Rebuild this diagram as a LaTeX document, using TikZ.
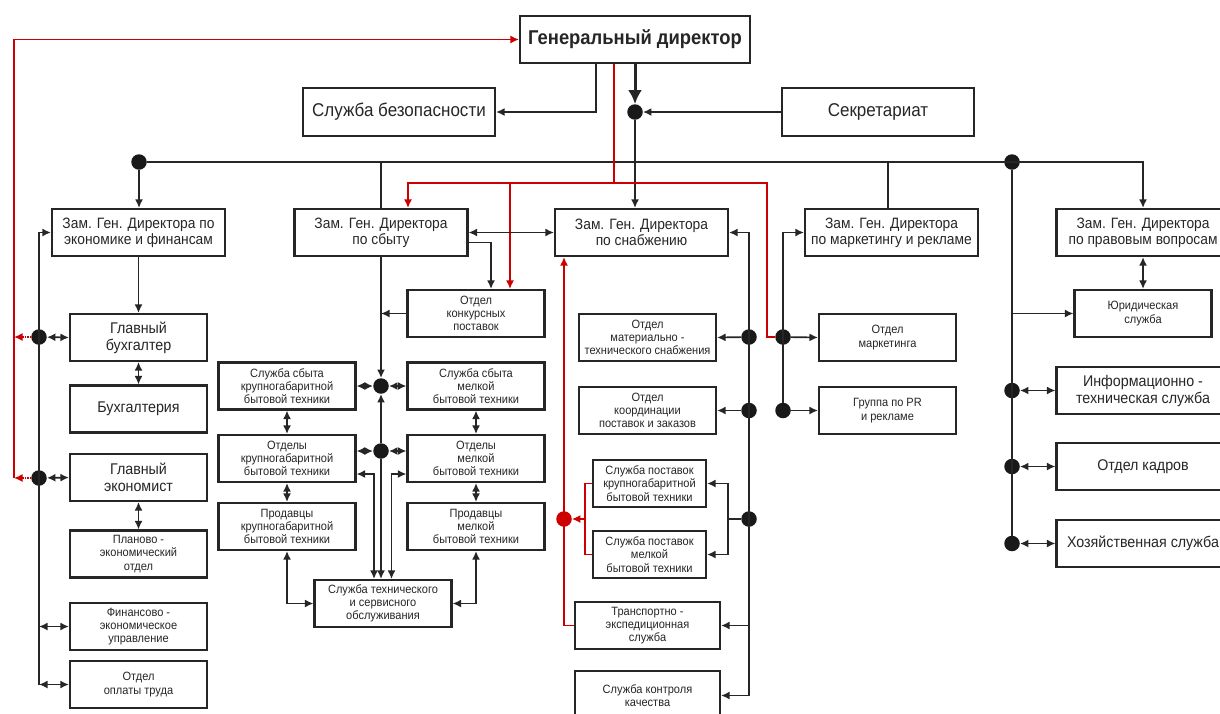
\documentclass[tikz,border=0pt]{standalone}
\usepackage{fontspec}
\setmainfont{Liberation Sans}[FakeStretch=0.92]
\usetikzlibrary{arrows.meta}
\newcommand{\knotsize}{15.5}
\tikzset{
	box/.style={draw=black!85, line width=2.1pt, fill=white, align=center, inner sep=1pt, text=black!85},
	huge/.style={font=\fontsize{20}{22}\selectfont\bfseries},
	large/.style={font=\fontsize{18.5}{20}\selectfont},
	big/.style={font=\fontsize{15.5}{17}\selectfont},
	mid/.style={font=\fontsize{15}{16}\selectfont},
	small/.style={font=\fontsize{12}{13.3}\selectfont},
	wide/.style={minimum width=173, minimum height=47},
	unit/.style={minimum width=137, minimum height=47},
	knot/.style={circle, fill=black!90, inner sep=0, minimum size=\knotsize},
	link/.style={draw=black!85, line width=1.7pt},
	redlink/.style={draw=red!80!black, line width=1.5pt},
	reddot/.style={redlink, densely dotted},
	>={Latex[length=8.5pt,width=8pt]}
}

\begin{document}
\begin{tikzpicture}[x=1pt, y=-1pt]
	
	\useasboundingbox[fill=white] (0,0) rectangle (1220,713);
	
	\node[box, huge, minimum width=230, minimum height=47] (GD) at (635,39.5) {Генеральный директор};
	\node[box, large, minimum width=192, minimum height=48] (SB) at (399,112) {Служба безопасности};
	\node[box, large, minimum width=192, minimum height=48] (Sec) at (878,112) {Секретариат};
	
	\node[box, mid, wide] (Econ) at (138.5,232.5) {Зам. Ген. Директора по\\экономике и финансам};
	\node[box, mid, wide] (Sbyt) at (381,232.5) {Зам. Ген. Директора\\по сбыту};
	\node[box, mid, wide] (Snab) at (641.5,232.5) {Зам. Ген. Директора\\по снабжению};
	\node[box, mid, wide] (Mark) at (891.5,232.5) {Зам. Ген. Директора\\по маркетингу и рекламе};
	\node[box, mid, wide] (Pravo) at (1143,232.5) {Зам. Ген. Директора\\по правовым вопросам};
	
	\node[box, big, unit] (GB) at (138.5,337.5) {Главный\\бухгалтер};
	\node[box, big, unit] (Buh) at (138.5,409) {Бухгалтерия};
	\node[box, big, unit] (GE) at (138.5,477.5) {Главный\\экономист};
	\node[box, small, unit] (PEO) at (138.5,554) {Планово -\\экономический\\отдел};
	\node[box, small, unit] (FEU) at (138.5,626.5) {Финансово -\\экономическое\\управление};
	\node[box, small, unit] (OOT) at (138.5,684.5) {Отдел\\оплаты труда};
	
	\node[box, small, unit] (OKP) at (476,313.5) {Отдел\\конкурсных\\поставок};
	\node[box, small, unit] (SSK) at (287,386) {Служба сбыта\\крупногабаритной\\бытовой техники};
	\node[box, small, unit] (SSM) at (476,386) {Служба сбыта\\мелкой\\бытовой техники};
	\node[box, small, unit] (OK) at (287,458.5) {Отделы\\крупногабаритной\\бытовой техники};
	\node[box, small, unit] (OM) at (476,458.5) {Отделы\\мелкой\\бытовой техники};
	\node[box, small, unit] (PK) at (287,526.5) {Продавцы\\крупногабаритной\\бытовой техники};
	\node[box, small, unit] (PM) at (476,526.5) {Продавцы\\мелкой\\бытовой техники};
	\node[box, small, unit] (ST) at (383,603.5) {Служба технического\\и сервисного\\обслуживания};
	
	\node[box, small, unit] (OMTS) at (647.5,337.5) {Отдел\\материально -\\технического снабжения};
	\node[box, small, unit] (OKPZ) at (647.5,410.5) {Отдел\\координации\\поставок и заказов};
	\node[box, small, minimum width=113, minimum height=47] (SPK) at (649.5,483.5) {Служба поставок\\крупногабаритной\\бытовой техники};
	\node[box, small, minimum width=113, minimum height=47] (SPM) at (649.5,554.5) {Служба поставок\\мелкой\\бытовой техники};
	\node[box, small, minimum width=145, minimum height=47] (TES) at (647.5,625.5) {Транспортно -\\экспедиционная\\служба};
	\node[box, small, minimum width=145, minimum height=49] (SKK) at (647.5,695.5) {Служба контроля\\качества};
	
	\node[box, small, unit] (OMk) at (887.5,337.5) {Отдел\\маркетинга};
	\node[box, small, unit] (PR) at (887.5,410.5) {Группа по PR\\и рекламе};
	
	\node[box, small, unit] (Yur) at (1143,313.5) {Юридическая\\служба};
	\node[box, big, wide] (IT) at (1143,390.5) {Информационно -\\техническая служба};
	\node[box, big, wide] (Kadr) at (1143,466.5) {Отдел кадров};
	\node[box, big, wide] (Hoz) at (1143,543.5) {Хозяйственная служба};
	
	\foreach \n/\x/\y in {d0/635/112, dL/139/162, dR/1012/162, dGB/39/337, dGE/39/478, dS1/381/386, dS2/381/451, dM1/749/337, dM2/749/410.5, dM3/749/519, dK1/783/337, dK2/783/410.5, dR1/1012/390.5, dR2/1012/466.5, dR3/1012/543.5}
	{
		\node[knot] (\n) at (\x,\y) {};
	}
	\node[knot, fill=red!80!black] (dRed) at (564,519) {};
	
	\coordinate (rL) at (14,478);
	\coordinate (rB) at (14,337);
	\coordinate (rT) at (614,183);
	\coordinate (rK) at (510,183);
	\coordinate (rS) at (585,519);
	\coordinate (sp) at (728,519);
	
	\draw[link, line width=3pt, -{Latex[length=14pt,width=14pt]}] (GD.south) -- (d0);
	\draw[link,->] ([xshift=-39pt]GD.south) |- (SB.east);
	\draw[link,->] (Sec.west) -- (d0);
	\draw[link,->] (d0) -- (d0 |- Snab.north);
	\draw[link,->] (dL) -| (Pravo.north);
	\draw[link,->] (dL) -- (dL |- Econ.north);
	\draw[link] (Sbyt.north) -- (Sbyt.north |- dL);
	\draw[link] ([xshift=-3.5pt]Mark.north) -- ([xshift=-3.5pt]Mark.north |- dL);
	\draw[link] (dR) -- (dR3);
	
	\draw[redlink,->] (rL) |- (GD.west);
	\draw[reddot,->] (dGB) -- (rB);
	\draw[reddot,->] (dGE) -- (rL);
	\draw[redlink] ([xshift=-21pt]GD.south) -- (rT) -| ([xshift=-16pt]dK1.center) -- (dK1);
	\draw[redlink,->] (rT) -| ([xshift=27pt]Sbyt.north);
	\draw[redlink,->] (rK) -- (rK |- OKP.north);
	
	\draw[link,->] (Econ) -- (GB);
	\foreach \a/\b in {GB/Buh, GE/PEO, SSK/OK, OK/PK, SSM/OM, OM/PM, Pravo/Yur}
	{
		\draw[link,<->] (\a) -- (\b);
	}
	\draw[link,<->] (dGB) -- (GB.west);
	\draw[link,<->] (dGE) -- (GE.west);
	\draw[link,->] (dGB |- OOT.west) |- (Econ.west);
	\draw[link,<->] (dGB |- FEU.west) -- (FEU.west);
	\draw[link,<->] (dGB |- OOT.west) -- (OOT.west);
	
	\draw[link,<->] (Sbyt.east) -- (Snab.west);
	\draw[link,->] ([yshift=-10pt]Sbyt.east) -| ([xshift=15pt]OKP.north);
	\draw[link,->] (Sbyt.south) -- (dS1);
	\draw[link,->] (OKP.west) -- (OKP.west -| dS1);
	\draw[link,<->] (dS1) -- (SSK.east);
	\draw[link,<->] (dS1) -- (SSM.west);
	\draw[link,<->] (dS2) -- (dS2 -| OK.east);
	\draw[link,<->] (dS2) -- (dS2 -| OM.west);
	\draw[link,->] (dS2) -- (dS1);
	\draw[link,->] (dS2) -- (dS2 |- ST.north);
	\draw[link,<->] ([yshift=-15.5pt]OK.east) -| ([xshift=-9pt]ST.north);
	\draw[link,<->] ([yshift=-15.5pt]OM.west) -| ([xshift=8.5pt]ST.north);
	\draw[link,<->] (PK.south) |- (ST.west);
	\draw[link,<->] (PM.south) |- (ST.east);
	
	\draw[link,->] (dM1 |- SKK.east) |- (Snab.east);
	\draw[link,->] (dM1 |- SKK.east) -- (SKK.east);
	\draw[link,->] (dM1 |- TES.east) -- (TES.east);
	\draw[link,->] (dM1) -- (OMTS.east);
	\draw[link,->] (dM2) -- (OKPZ.east);
	\draw[link] (dM3) -- (sp);
	\draw[link,->] (sp) |- (SPK.east);
	\draw[link,->] (sp) |- (SPM.east);
	\draw[redlink,->] (TES.west) -| (dRed |- Snab.south);
	\draw[redlink] (SPK.west) -| (rS) |- (SPM.west);
	\draw[redlink,->] (rS) -- (dRed);
	
	\draw[link,->] (dK2) |- (Mark.west);
	\draw[link,->] (dK1) -- (OMk.west);
	\draw[link,->] (dK2) -- (PR.west);
	
	\draw[link,->] (dR |- Yur.west) -- (Yur.west);
	\draw[link,<->] (dR1) -- (IT.west);
	\draw[link,<->] (dR2) -- (Kadr.west);
	\draw[link,<->] (dR3) -- (Hoz.west);

\end{tikzpicture}
\end{document}
